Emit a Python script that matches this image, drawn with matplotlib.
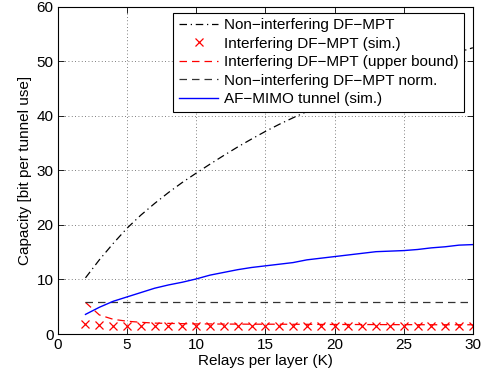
import matplotlib
matplotlib.use("Agg")
import matplotlib.pyplot as plt

plt.rcParams['font.family'] = ['Liberation Sans', 'DejaVu Sans']

K = list(range(2, 31))

non_interf = [10.3, 13.6, 16.6, 19.4, 21.8, 23.95, 25.95, 27.8, 29.5,
              31.15, 32.75, 34.3, 35.75, 37.15, 38.45, 39.65, 40.8, 41.9,
              43.0, 44.0, 45.0, 46.0, 47.0, 48.0, 49.0, 49.9, 50.8, 51.7, 52.5]

interf_sim = [1.8, 1.6, 1.55, 1.5, 1.5, 1.5, 1.5, 1.5, 1.5,
              1.5, 1.5, 1.5, 1.5, 1.5, 1.45, 1.45, 1.45, 1.45,
              1.45, 1.45, 1.45, 1.45, 1.45, 1.45, 1.45, 1.45, 1.45, 1.45, 1.45]

interf_ub = [5.8, 3.5, 2.7, 2.35, 2.15, 2.0, 1.95, 1.9, 1.85,
             1.85, 1.82, 1.82, 1.8, 1.8, 1.8, 1.78, 1.78, 1.76,
             1.75, 1.75, 1.74, 1.73, 1.72, 1.72, 1.71, 1.7, 1.7, 1.7, 1.7]

non_interf_norm = [5.9] * len(K)

af_mimo = [3.6, 4.9, 6.0, 6.8, 7.6, 8.4, 9.0, 9.5, 10.1,
           10.8, 11.3, 11.8, 12.2, 12.5, 12.8, 13.1, 13.6, 13.9,
           14.2, 14.5, 14.8, 15.1, 15.2, 15.3, 15.5, 15.8, 16.0, 16.3, 16.4]

labels = ['Non\u2212interfering DF\u2212MPT',
          'Interfering DF\u2212MPT (sim.)',
          'Interfering DF\u2212MPT (upper bound)',
          'Non\u2212interfering DF\u2212MPT norm.',
          'AF\u2212MIMO tunnel (sim.)']

fig = plt.figure(figsize=(4.9, 3.8), dpi=100)
ax = fig.add_axes([0.118, 0.121, 0.847, 0.861])

ax.plot(K, non_interf, color='black', linestyle=(0, (6, 3, 1, 3)), lw=0.9, label=labels[0])
ax.plot(K, interf_sim, color='red', linestyle='none', marker='x', ms=6, mew=0.9, label=labels[1])
ax.plot(K, interf_ub, color='red', linestyle=(0, (6, 4)), lw=0.9, label=labels[2])
ax.plot(K, non_interf_norm, color='#333333', linestyle=(0, (6, 4)), lw=0.9, label=labels[3])
ax.plot(K, af_mimo, color='blue', linestyle='-', lw=1.0, label=labels[4])

ax.set_xlim(0, 30)
ax.set_ylim(0, 60)
ax.set_xticks(range(0, 31, 5))
ax.set_yticks(range(0, 61, 10))
ax.tick_params(direction='in', top=True, right=True, labelsize=11, length=4, width=0.6, pad=3)
ax.grid(True, linestyle=(0, (1, 3)), color='#555555', lw=0.6)
for s in ax.spines.values():
    s.set_linewidth(0.8)

ax.set_xlabel('Relays per layer (K)', fontsize=11, labelpad=1)
ax.set_ylabel('Capacity [bit per tunnel use]', fontsize=11, labelpad=3)

leg = ax.legend(loc='upper right', bbox_to_anchor=(0.978, 0.982), borderaxespad=0,
                fontsize=11, handlelength=2.6, handletextpad=0.35,
                labelspacing=0.3, borderpad=0.35, fancybox=False,
                framealpha=1, edgecolor='black')
leg.get_frame().set_linewidth(0.8)

fig.savefig('out.png', dpi=100)
